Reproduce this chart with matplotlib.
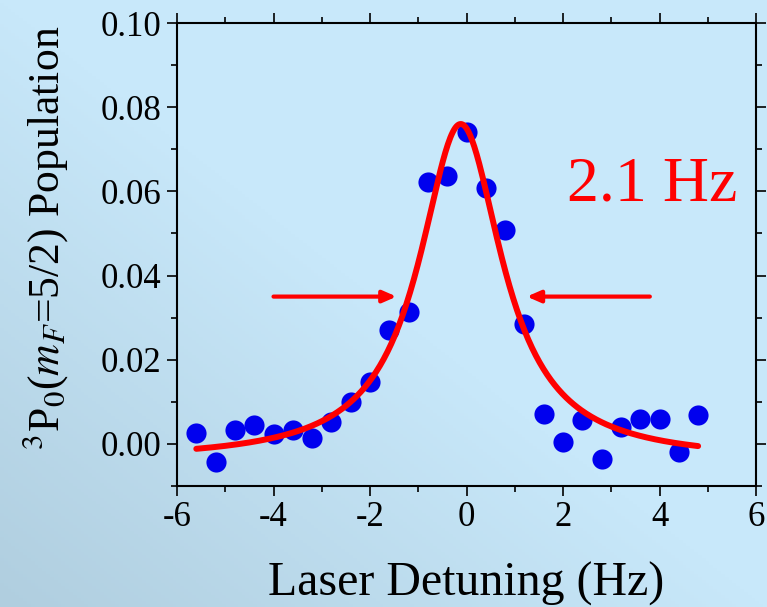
"""
Clock transition spectrum: 3P0 population vs laser detuning, Lorentzian fit.
"""
import numpy as np
import matplotlib
matplotlib.use("Agg")
import matplotlib.pyplot as plt
from matplotlib.ticker import MultipleLocator

plt.rcParams["font.family"] = ["Liberation Serif", "DejaVu Serif"]
plt.rcParams["mathtext.fontset"] = "stix"

# measured points
detuning = [-5.6, -5.2, -4.8, -4.4, -4.0, -3.6, -3.2, -2.8, -2.4, -2.0,
            -1.6, -1.2, -0.8, -0.4, 0.0, 0.4, 0.8, 1.2, 1.6, 2.0,
            2.4, 2.8, 3.2, 3.6, 4.0, 4.4, 4.8]
population = [0.0025, -0.0042, 0.0032, 0.0045, 0.0024, 0.0032, 0.0015, 0.0053, 0.0100, 0.0147,
              0.0270, 0.0313, 0.0622, 0.0637, 0.0740, 0.0607, 0.0508, 0.0285, 0.0070, 0.0005,
              0.0056, -0.0035, 0.0040, 0.0060, 0.0060, -0.0020, 0.0068]

# lorentzian fit parameters
fit_xc, fit_fwhm, fit_amp, fit_y0 = -0.12, 2.1, 0.080, -0.004
fit_range = (-5.6, 4.8)

# half-max arrows (tail x, head x, y)
arrow_left = (-4.0, -1.45, 0.035)
arrow_right = (3.8, 1.25, 0.035)

W, H = 767, 607
fig = plt.figure(figsize=(W / 100, H / 100), dpi=100)

# background gradient, darker toward bottom-left
bg = fig.add_axes([0, 0, 1, 1], zorder=-1)
u, v = np.meshgrid(np.linspace(0, 1, 200), np.linspace(0, 1, 200))
dark = np.clip(1 - (u + v), 0, 1)
light = np.array([200, 232, 250]) / 255
darkc = np.array([176, 206, 223]) / 255
img = light[None, None, :] * (1 - dark[..., None]) + darkc[None, None, :] * dark[..., None]
bg.imshow(img, origin="lower", aspect="auto", extent=[0, 1, 0, 1])
bg.axis("off")

ax = fig.add_axes([177 / W, 1 - 486 / H, (756 - 177) / W, (486 - 23) / H])
ax.patch.set_alpha(0)

xs = np.linspace(*fit_range, 400)
hw = fit_fwhm / 2
ys = fit_y0 + fit_amp * hw**2 / ((xs - fit_xc) ** 2 + hw**2)
ax.plot(xs, ys, color="red", lw=4.3, zorder=3, solid_capstyle="round")
ax.plot(detuning, population, "o", color="#0000ee", ms=14.5, mec="none", zorder=2)

for tail, head, y in (arrow_left, arrow_right):
    ax.annotate("", xy=(head, y), xytext=(tail, y),
                arrowprops=dict(arrowstyle="-|>,head_length=0.8,head_width=0.35",
                                color="red", lw=3, shrinkA=0, shrinkB=0))

ax.text(3.85, 0.0615, "2.1 Hz", color="red", fontsize=46, ha="center", va="center")

ax.set_xlim(-6, 6)
ax.set_ylim(-0.01, 0.10)
ax.xaxis.set_major_locator(MultipleLocator(2))
ax.xaxis.set_minor_locator(MultipleLocator(1))
ax.yaxis.set_major_locator(MultipleLocator(0.02))
ax.yaxis.set_minor_locator(MultipleLocator(0.01))
ax.yaxis.set_major_formatter(matplotlib.ticker.FormatStrFormatter("%.2f"))
ax.xaxis.set_major_formatter(matplotlib.ticker.FuncFormatter(lambda x, p: f"{x:.0f}"))
ax.tick_params(which="both", direction="out", top=True, right=True, labelsize=25,
               width=1.2, pad=4)
ax.tick_params(which="major", length=7)
ax.tick_params(which="minor", length=4)
for s in ax.spines.values():
    s.set_linewidth(1.5)

ax.set_xlabel("Laser Detuning (Hz)", fontsize=34.5, labelpad=20)
ax.set_ylabel(r"$^3$P$_0$($m_F$=5/2) Population", fontsize=31.5)
ax.yaxis.set_label_coords(-0.185, 0.535)

fig.savefig("out.png", dpi=100)
